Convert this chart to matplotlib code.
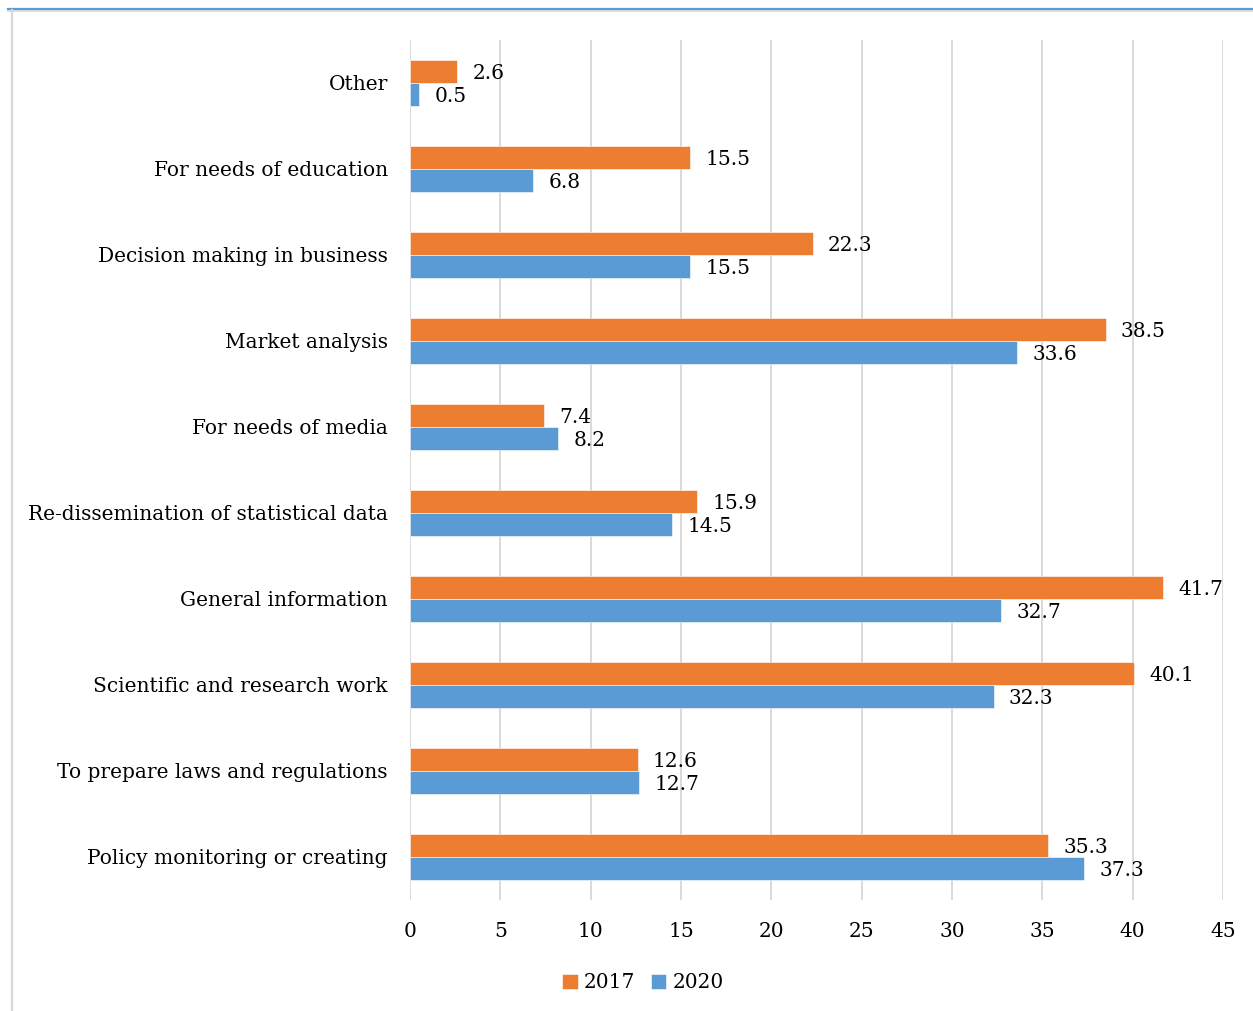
import matplotlib
matplotlib.use("Agg")
import matplotlib.pyplot as plt
from matplotlib.lines import Line2D
import numpy as np

plt.rcParams['font.family'] = ['DejaVu Serif']

categories = [
    "Other",
    "For needs of education",
    "Decision making in business",
    "Market analysis",
    "For needs of media",
    "Re-dissemination of statistical data",
    "General information",
    "Scientific and research work",
    "To prepare laws and regulations",
    "Policy monitoring or creating",
]
values_2017 = [2.6, 15.5, 22.3, 38.5, 7.4, 15.9, 41.7, 40.1, 12.6, 35.3]
values_2020 = [0.5, 6.8, 15.5, 33.6, 8.2, 14.5, 32.7, 32.3, 12.7, 37.3]
x_ticks = [0, 5, 10, 15, 20, 25, 30, 35, 40, 45]

ORANGE = "#ED7D31"
BLUE = "#5B9BD5"
GRID = "#D9D9D9"
FS = 14.5

W, H = 1253, 1011
fig = plt.figure(figsize=(W / 100, H / 100), dpi=100)
ax = fig.add_axes([410 / W, 111 / H, 813 / W, 860 / H])

# categories listed top-down; plot bottom-up
n = len(categories)
pos = np.arange(n)[::-1]
h = 0.27
b17 = ax.barh(pos + h / 2, values_2017, height=h, color=ORANGE, label="2017",
              edgecolor="white", linewidth=0.4, zorder=3)
b20 = ax.barh(pos - h / 2, values_2020, height=h, color=BLUE, label="2020",
              edgecolor="white", linewidth=0.4, zorder=3)

# value labels just past the end of each bar
for ys, vals in ((pos + h / 2, values_2017), (pos - h / 2, values_2020)):
    for y, v in zip(ys, vals):
        ax.annotate(f"{v:.1f}", xy=(v, y), xytext=(11, -1.3),
                    textcoords="offset points", ha="left", va="center",
                    fontsize=FS, color="black")

ax.set_xlim(0, 45)
ax.set_ylim(-0.5, n - 0.5)
ax.set_xticks(x_ticks)
ax.set_xticklabels([str(t) for t in x_ticks])
ax.set_yticks(pos)
ax.set_yticklabels(categories)
ax.tick_params(axis="both", length=0, labelsize=FS)
ax.tick_params(axis="x", pad=15.5)
ax.tick_params(axis="y", pad=16)
ax.grid(axis="x", color=GRID, linewidth=1.4, zorder=0)
for s in ax.spines.values():
    s.set_visible(False)

fig.legend(handles=[b17, b20], labels=["2017", "2020"], loc="center",
           bbox_to_anchor=(643 / W, 1 - 983 / H), ncol=2, frameon=False,
           fontsize=FS, handlelength=0.75, handleheight=0.75,
           handletextpad=0.3, columnspacing=0.8)

# frame lines around the figure area
fig.add_artist(Line2D([8 / W, 1], [1 - 10.5 / H, 1 - 10.5 / H],
                      transform=fig.transFigure, color=GRID, linewidth=1.2))
fig.add_artist(Line2D([8 / W, 1], [1 - 8.5 / H, 1 - 8.5 / H],
                      transform=fig.transFigure, color=BLUE, linewidth=1.6))
fig.add_artist(Line2D([12 / W, 12 / W], [0, 1 - 10 / H],
                      transform=fig.transFigure, color=GRID, linewidth=1.6))

fig.savefig("out.png", dpi=100, facecolor="white")
